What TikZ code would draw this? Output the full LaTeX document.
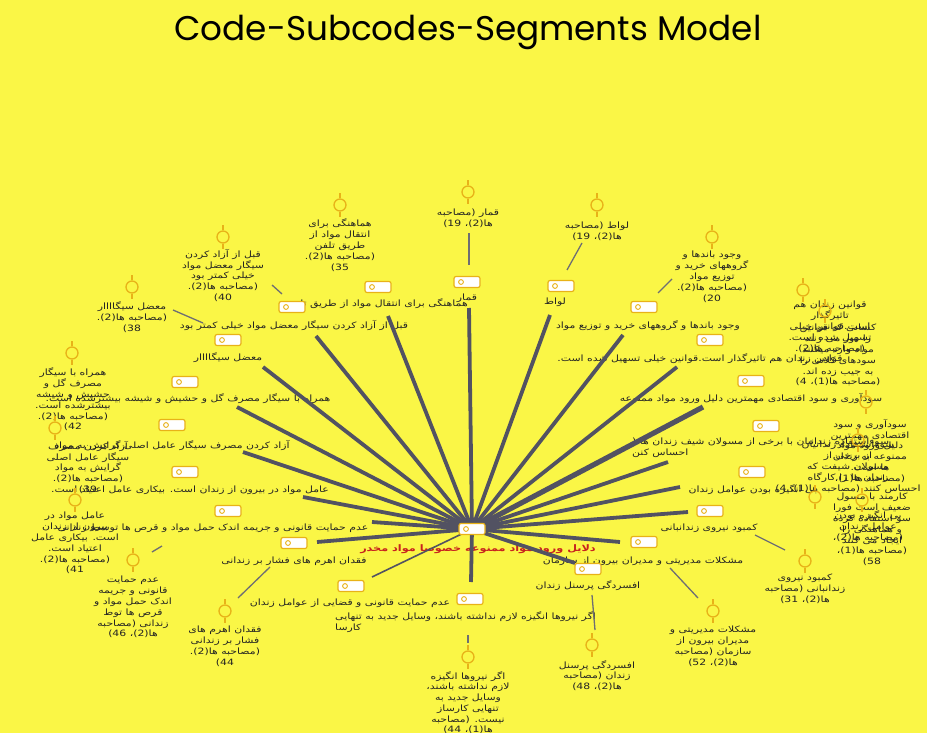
\documentclass[tikz,border=0pt]{standalone}
\usepackage{fontspec}
\usepackage{graphicx}
\TeXXeTstate=1
\newfontfamily\fafont[Script=Arabic,FakeStretch=1.25]{DejaVu Sans}
\newfontfamily\titlefont{Poppins}
\definecolor{bgc}{RGB}{250,246,70}
\definecolor{goldc}{RGB}{232,178,24}
\definecolor{linec}{RGB}{82,82,98}
\definecolor{thinc}{RGB}{110,110,115}
\definecolor{txtc}{RGB}{35,35,35}
\definecolor{redc}{RGB}{200,35,30}
\pgfdeclarelayer{back}\pgfdeclarelayer{textl}\pgfdeclarelayer{lines}
\pgfsetlayers{back,textl,lines,main}
\tikzset{
 tagicon/.style={rectangle, rounded corners=2pt, draw=goldc, fill=white, line width=1.2pt,
   minimum width=26pt, minimum height=11pt, inner sep=0pt,
   path picture={\draw[goldc,line width=0.9pt] ([xshift=7pt]path picture bounding box.west) circle (2.4pt);}},
 segicon/.style={circle, draw=goldc, line width=1.3pt, minimum size=12pt, inner sep=0pt},
 segstub/.style={draw=goldc, line width=1.3pt},
 lab/.style={font=\fafont\fontsize{8.7}{10.8}\selectfont, text=txtc, align=center, inner sep=0pt},
 mainlink/.style={draw=linec, line width=3.8pt},
 boldlink/.style={draw=linec, line width=5.2pt},
 lightlink/.style={draw=linec, line width=1.6pt},
 seglinkst/.style={draw=thinc, line width=1.3pt},
}
\newcommand\subcode[6][mainlink]{%
 \node[tagicon] (i#2) at (#3) {};
 \begin{pgfonlayer}{textl}\node[lab] (l#2) at (#4) {#5};\end{pgfonlayer}
 \coordinate (e#2) at (#6);
 \begin{pgfonlayer}{lines}\draw[#1] (c.center) -- (e#2);\end{pgfonlayer}
}
\newcommand\segment[4]{%
 \node[segicon] (g#1) at (#2) {};
 \draw[segstub] (g#1.north) -- ++(0,-5.5) (g#1.south) -- ++(0,5.5);
 \begin{pgfonlayer}{textl}\node[lab,anchor=north] (t#1) at (#3) {#4};\end{pgfonlayer}
}
\newcommand\seglink[3]{%
 \coordinate (a#1) at (#2); \coordinate (b#1) at (#3);
 \begin{pgfonlayer}{lines}\draw[seglinkst] (a#1) -- (b#1);\end{pgfonlayer}
}
\begin{document}
\begin{tikzpicture}[x=1pt,y=-1pt]
\begin{pgfonlayer}{back}
\fill[bgc] (0,0) rectangle (927,733);
\end{pgfonlayer}
\useasboundingbox (0,0) rectangle (927,733);

\node[font=\titlefont, text=black] (title) at (468,32) {\resizebox{587pt}{!}{Code-Subcodes-Segments Model}};

% central code
\node[tagicon] (c) at (472,529) {};
\begin{pgfonlayer}{textl}
\node[lab, font=\fafont\bfseries\fontsize{9}{10}\selectfont, text=redc] (cl) at (478,549) {\beginR دلایل ورود مواد ممنوعه خصوصا مواد مخدر\endR};
\end{pgfonlayer}

% subcodes
\subcode{1}{467,282}{467,298}{\beginR قمار\endR}{469,308}
\subcode{2}{561,286}{555,302}{\beginR لواط\endR}{550,315}
\subcode{3}{378,287}{377,304}{\beginR هماهنگی برای انتقال مواد از طریق تلفن\endR}{388,316}
\subcode{4}{292,307}{294,325}{\beginR قبل از آزاد کردن سیگار معضل مواد خیلی کمتر بود\endR}{316,336}
\subcode{5}{228,340}{228,358}{\beginR معضل سیگاااار\endR}{263,367}
\subcode{6}{185,382}{188,399}{\beginR همراه با سیگار مصرف گل و حشیش و شیشه بیشترشده است.\endR}{237,407}
\subcode{7}{172,425}{172,445}{\beginR آزاد کردن مصرف سیگار عامل اصلی گرایش به مواد\endR}{243,452}
\subcode{8}{185,472}{190,490}{\beginR عامل مواد در بیرون از زندان است. بیکاری عامل اعتیاد است.\endR}{303,497}
\subcode{9}{228,511}{213,528}{\beginR عدم حمایت قانونی و جریمه اندک حمل مواد و قرص ها توسط زندانی\endR}{372,522}
\subcode{10}{294,543}{294,561}{\beginR فقدان اهرم های فشار بر زندانی\endR}{317,542}
\subcode[lightlink]{11}{351,586}{350,603}{\beginR عدم حمایت قانونی و قضایی از عوامل زندان\endR}{372,577}
\subcode{13}{588,569}{588,586}{\beginR افسردگی پرسنل زندان\endR}{575,563}
\subcode{14}{644,542}{643,561}{\beginR مشکلات مدیریتی و مدیران بیرون از سازمان\endR}{620,542}
\subcode{15}{710,511}{709,528}{\beginR کمبود نیروی زندانبانی\endR}{688,512}
\subcode{16}{752,472}{753,490}{\beginR بی انگیزه بودن عوامل زندان\endR}{680,487}
\subcode[boldlink]{18}{751,381}{751,398}{\beginR سودآوری و سود اقتصادی مهمترین دلیل ورود مواد ممنوعه\endR}{703,407}
\subcode{19}{710,340}{700,359}{\beginR قوانین زندان هم تاثیرگذار است.قوانین خیلی تسهیل شده است.\endR}{677,367}
\subcode{20}{644,307}{648,326}{\beginR وجود باندها و گروههای خرید و توزیع مواد\endR}{623,335}

% two-line subcodes
\node[tagicon] (i12) at (470,599) {};
\begin{pgfonlayer}{textl}
\node[lab, align=left, anchor=north west] (l12) at (335,612) {\beginR اگر نیروها انگیزه لازم نداشته باشند، وسایل جدید به تنهایی\endR\\\beginR کارسا\endR};
\end{pgfonlayer}
\coordinate (e12) at (471,582);
\begin{pgfonlayer}{lines}\draw[mainlink] (c.center) -- (e12);\end{pgfonlayer}

\node[tagicon] (i17) at (766,426) {};
\begin{pgfonlayer}{textl}
\node[lab, align=left, anchor=north west] (l17) at (632,438) {\beginR سوءاستفاده زندانیان با برخی از مسولان شیف زندان ها (\endR\\\beginR احساس کنن\endR};
\end{pgfonlayer}
\coordinate (e17) at (668,462);
\begin{pgfonlayer}{lines}\draw[mainlink] (c.center) -- (e17);\end{pgfonlayer}

% segments
\segment{1}{468,192}{468,209}{\beginR قمار (مصاحبه\endR\\\beginR ها(2)، \beginL 19\endL)\endR}
\seglink{1}{469,233}{469,265}
\segment{2}{597,205}{597,222}{\beginR لواط (مصاحبه\endR\\\beginR ها(2)، \beginL 19\endL)\endR}
\seglink{2}{582,243}{567,270}
\segment{3}{340,205}{340,219}{\beginR هماهنگی برای\endR\\\beginR انتقال مواد از\endR\\\beginR طریق تلفن\endR\\\beginR (مصاحبه ها(2).\endR\\\beginR \beginL 35\endL)\endR}
\segment{4}{223,237}{223,249}{\beginR قبل از آزاد کردن\endR\\\beginR سیگار معضل مواد\endR\\\beginR خیلی کمتر بود\endR\\\beginR (مصاحبه ها(2).\endR\\\beginR \beginL 40\endL)\endR}
\seglink{4}{272,285}{282,294}
\segment{5}{132,287}{132,302}{\beginR معضل سیگاااار\endR\\\beginR (مصاحبه ها(2).\endR\\\beginR \beginL 38\endL)\endR}
\seglink{5}{173,310}{203,323}
\segment{6}{72,353}{73,368}{\beginR همراه با سیگار\endR\\\beginR مصرف گل و\endR\\\beginR حشیش و شیشه\endR\\\beginR بیشترشده است.\endR\\\beginR (مصاحبه ها(2).\endR\\\beginR \beginL 42\endL)\endR}
\segment{7}{55,428}{88,441}{\beginR آزاد کردن مصرف\endR\\\beginR سیگار عامل اصلی\endR\\\beginR گرایش به مواد\endR\\\beginR (مصاحبه ها(2).\endR\\\beginR \beginL 39\endL)\endR}
\segment{8}{75,500}{75,512}{\beginR عامل مواد در\endR\\\beginR بیرون از زندان\endR\\\beginR است. بیکاری عامل\endR\\\beginR اعتیاد است.\endR\\\beginR (مصاحبه ها(2).\endR\\\beginR \beginL 41\endL)\endR}
\segment{9}{133,560}{133,576}{\beginR عدم حمایت\endR\\\beginR قانونی و جریمه\endR\\\beginR اندک حمل مواد و\endR\\\beginR قرص ها توط\endR\\\beginR زندانی (مصاحبه\endR\\\beginR ها(2)، \beginL 46\endL)\endR}
\seglink{9}{152,552}{162,546}
\segment{10}{225,611}{225,626}{\beginR فقدان اهرم های\endR\\\beginR فشار بر زندانی\endR\\\beginR (مصاحبه ها(2).\endR\\\beginR \beginL 44\endL)\endR}
\seglink{10}{238,598}{270,567}
\segment{12}{468,657}{468,671}{\beginR اگر نیروها انگیزه\endR\\\beginR لازم نداشته باشند،\endR\\\beginR وسایل جدید به\endR\\\beginR تنهایی کارساز\endR\\\beginR نیست. (مصاحبه\endR\\\beginR ها(1)، \beginL 44\endL)\endR}
\seglink{12}{468,635}{468,643}
\segment{13}{592,645}{597,660}{\beginR افسردگی پرسنل\endR\\\beginR زندان (مصاحبه\endR\\\beginR ها(2)، \beginL 48\endL)\endR}
\seglink{13}{592,595}{595,630}
\segment{14}{713,611}{713,626}{\beginR مشکلات مدیریتی و\endR\\\beginR مدیران بیرون از\endR\\\beginR سازمان (مصاحبه\endR\\\beginR ها(2)، \beginL 52\endL)\endR}
\seglink{14}{670,568}{698,598}
\segment{15}{805,561}{805,574}{\beginR کمبود نیروی\endR\\\beginR زندانبانی (مصاحبه\endR\\\beginR ها(2)، \beginL 31\endL)\endR}
\seglink{15}{755,535}{785,550}
\segment{20}{712,237}{712,251}{\beginR وجود باندها و\endR\\\beginR گروههای خرید و\endR\\\beginR توزیع مواد\endR\\\beginR (مصاحبه ها(2).\endR\\\beginR \beginL 20\endL)\endR}
\seglink{20}{672,279}{658,293}
\segment{19}{803,290}{830,301}{\beginR قوانین زندان هم\endR\\\beginR تاثیرگذار\endR\\\beginR است.قوانین خیلی\endR\\\beginR تسهیل شده است.\endR\\\beginR (مصاحبه ها(2).\endR}
\segment{21}{825,311}{838,324}{\beginR کسانی که قوانین\endR\\\beginR را دور می زنند\endR\\\beginR مواد وارد میکنند\endR\\\beginR سودهای کلانی را\endR\\\beginR به جیب زده اند.\endR\\\beginR (مصاحبه ها(1)، 4)\endR}
\segment{18}{866,402}{870,419}{\beginR سودآوری و سود\endR\\\beginR اقتصادی مهمترین\endR\\\beginR دلیل ورود مواد\endR\\\beginR ممنوعه به زندان\endR\\\beginR ها است.\endR\\\beginR (مصاحبه ها(1)،\endR}
\segment{17}{858,440}{848,441}{\beginR سوءاستفاده زندانیان\endR\\\beginR از برخی از\endR\\\beginR مسولان شیفت که\endR\\\beginR زندان ها را کارگاه\endR\\\beginR احساس کنند (مصاحبه ها(1)، 4)\endR}
\segment{16}{815,497}{872,493}{\beginR کارمند با مسول\endR\\\beginR ضعیف است فورا\endR\\\beginR سو استفاده کرده\endR\\\beginR و هماهنگی را\endR\\\beginR ایجاد می کنند\endR\\\beginR (مصاحبه ها(1)،\endR\\\beginR \beginL 58\endL)\endR}
\segment{22}{862,500}{868,511}{\beginR بی انگیزه بودن\endR\\\beginR عوامل زندان\endR\\\beginR (مصاحبه ها(2)،\endR}
\end{tikzpicture}
\end{document}
